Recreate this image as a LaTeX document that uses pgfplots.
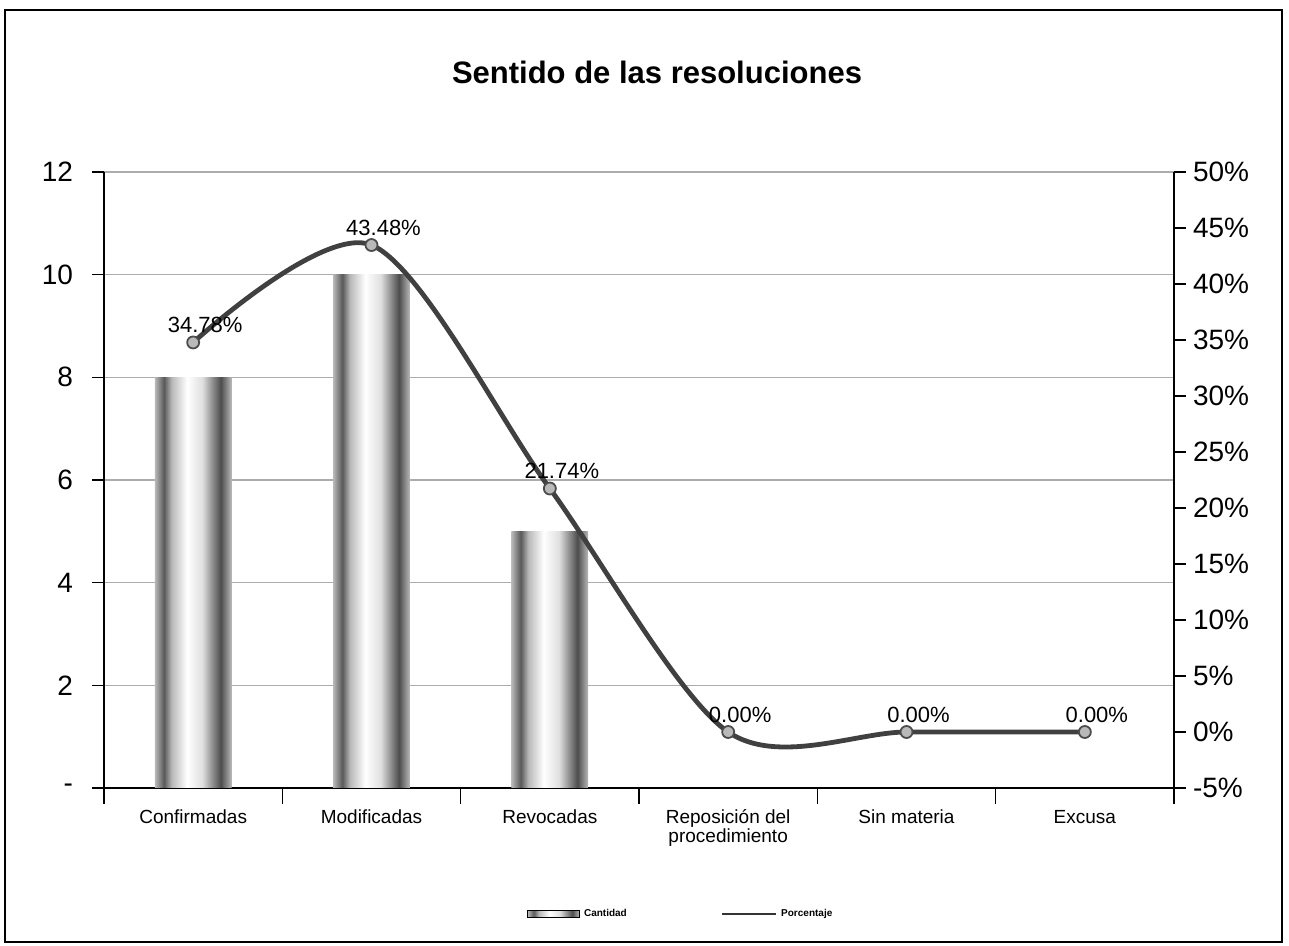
\documentclass[border=0pt]{standalone}
\usepackage{fontspec}
\setmainfont{Liberation Sans}
\usepackage{pgfplots}
\pgfplotsset{compat=1.18}
\pgfdeclarehorizontalshading{barshade}{100bp}{color(0bp)=(gray!55); color(25bp)=(gray!55); color(31bp)=(black!65); color(36bp)=(gray!55); color(46bp)=(white); color(56bp)=(gray!25); color(68bp)=(black!70); color(75bp)=(gray!55); color(100bp)=(gray!55)}
\newcommand{\vp}{\vphantom{Róp}}
\begin{document}
\begin{tikzpicture}
\useasboundingbox (-52pt,-79pt) rectangle (592.5pt,394pt);
\begin{axis}[
  at={(0,0)}, anchor=south west, scale only axis,
  width=535pt, height=308pt,
  xmin=-0.5, xmax=5.5, ymin=0, ymax=12,
  axis y line*=left, axis x line*=bottom,
  axis line style={black, line width=0.8pt},
  xtick={0,...,5},
  xticklabels={{\vp Confirmadas\\\vp}, {\vp Modificadas\\\vp}, {\vp Revocadas\\\vp}, {\vp Reposición del\\\vp procedimiento}, {\vp Sin materia\\\vp}, {\vp Excusa\\\vp}},
  xticklabel style={align=center, font=\fontsize{9.5}{9.5}\selectfont, anchor=north, yshift=-1pt},
  major x tick style={draw=none},
  minor xtick={-0.5,0.5,...,5.5},
  minor x tick style={black, line width=0.6pt},
  minor tick length=8pt,
  ytick={0,2,...,12},
  yticklabels={-,2,4,6,8,10,12},
  yticklabel style={font=\fontsize{14}{14}\selectfont, xshift=-6pt},
  y tick style={black, line width=0.6pt},
  major tick length=6pt,
  tick align=outside,
  ymajorgrids,
  major grid style={gray!65, line width=0.6pt},
  /pgf/number format/assume math mode=true,
]
\addplot[ybar, bar width=0.43, bar shift=0pt, draw=none, shade, shading=barshade] coordinates {(0,8)};
\addplot[ybar, bar width=0.43, bar shift=0pt, draw=none, shade, shading=barshade] coordinates {(1,10)};
\addplot[ybar, bar width=0.43, bar shift=0pt, draw=none, shade, shading=barshade] coordinates {(2,5)};
\end{axis}
\begin{axis}[
  at={(0,0)}, anchor=south west, scale only axis,
  width=535pt, height=308pt,
  xmin=-0.5, xmax=5.5, ymin=-5, ymax=50,
  axis y line*=right, axis x line=none,
  axis line style={black, line width=0.8pt},
  xtick=\empty,
  ytick={-5,0,...,50},
  yticklabel={\pgfmathprintnumber{\tick}\%},
  yticklabel style={font=\fontsize{14}{14}\selectfont},
  y tick style={black, line width=0.6pt},
  major tick length=6pt,
  tick align=outside,
  /pgf/number format/assume math mode=true,
  legend style={at={(0.54,-0.205)}, anchor=center, draw=none, fill=none,
    font=\fontsize{5}{6}\selectfont\bfseries, /tikz/every even column/.append style={column sep=45pt}},
  legend columns=2,
]
\addlegendimage{legend image code/.code={\fill[shade, shading=barshade] (0pt,-1.8pt) rectangle (26pt,1.8pt);}}
\addlegendentry{Cantidad}
\addlegendimage{legend image code/.code={\draw[black!80, line width=1.2pt] (0pt,0pt) -- (27pt,0pt);}}
\addlegendentry{Porcentaje}
\addplot[smooth, black!75, line width=2.4pt, mark=*,
  mark options={fill=gray!55, draw=black!70, line width=0.9pt, scale=1.5},
  nodes near coords={\pgfmathprintnumber[fixed, fixed zerofill, precision=2]{\pgfplotspointmeta}\%},
  every node near coord/.append style={font=\fontsize{11}{11}\selectfont, black, anchor=south, xshift=6pt, yshift=1pt},
  forget plot,
] coordinates {(0,34.78) (1,43.48) (2,21.74) (3,0) (4,0) (5,0)};
\end{axis}
\node[font=\bfseries\fontsize{15.5}{16}\selectfont] at (276.5pt,358pt) {Sentido de las resoluciones};
\draw[line width=1.2pt] (-49.5pt,-77pt) rectangle (589pt,389pt);
\end{tikzpicture}
\end{document}
